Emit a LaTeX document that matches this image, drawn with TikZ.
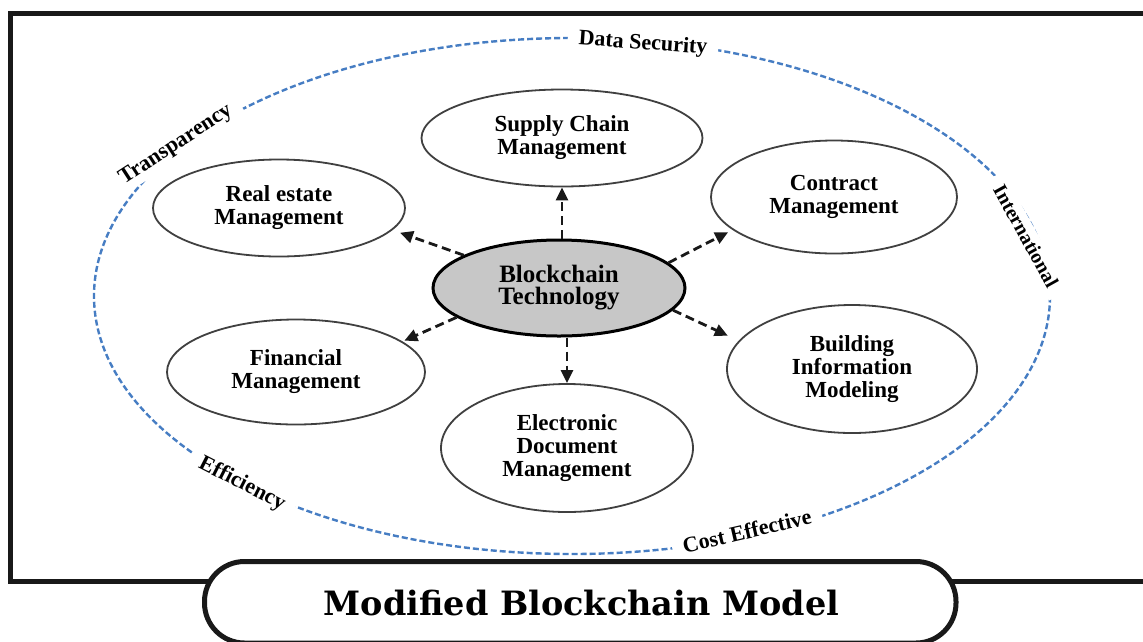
\documentclass[tikz,border=0pt]{standalone}
\usepackage{fontspec}
\setmainfont{Liberation Serif}
\newfontfamily\capfont{DejaVu Serif}
\usetikzlibrary{shapes.geometric,arrows.meta}
\begin{document}
\begin{tikzpicture}[x=1pt,y=1pt,
  mod/.style={ellipse,draw=black!75,line width=1.8pt,inner sep=0pt,align=center,font=\fontsize{23}{23}\selectfont\bfseries},
  core/.style={mod,fill=black!22,draw=black,line width=3pt,font=\fontsize{25}{22}\selectfont\bfseries},
  arr/.style={line width=2.8pt,dash pattern=on 9pt off 5pt,-{Triangle[length=13pt,width=12pt]},black!90},
  ring/.style={draw={rgb,255:red,70;green,125;blue,195},line width=2.4pt,dash pattern=on 6pt off 3pt},
  lab/.style={font=\fontsize{22}{22}\selectfont\bfseries,fill=white,inner xsep=11pt,inner ysep=4pt},
  capbox/.style={line width=5pt,draw=black!90,fill=white,rounded corners=40pt}]
\useasboundingbox (0,0) rectangle (1143,-641);
\clip (0,0) rectangle (1143,-641);
\fill[white] (0,0) rectangle (1143,-641);
\draw[line width=5pt,black!90] (10,-13.5) rectangle (1160,-581.5);
\draw[ring] (572,-296) ellipse [x radius=478,y radius=258];
\node[lab,rotate=-4] (ds) at (643,-44) {Data Security};
\node[lab,rotate=33] (tr) at (176,-145) {Transparency};
\node[lab,rotate=-61,font=\fontsize{20}{20}\selectfont\bfseries] (in) at (1026,-236) {International};
\node[lab,rotate=-27] (ef) at (242,-484) {Efficiency};
\node[lab,rotate=13] (ce) at (747,-531) {Cost Effective};
\node[core,minimum width=252,minimum height=96] (bc) at (559,-288) {Blockchain\\Technology};
\node[mod,minimum width=281,minimum height=97] (sc) at (562,-138) {Supply Chain\\Management};
\node[mod,minimum width=252,minimum height=97] (re) at (279,-208) {Real estate\\Management};
\node[mod,minimum width=246,minimum height=113] (cm) at (834,-197) {Contract\\Management};
\node[mod,minimum width=258,minimum height=105] (fm) at (296,-372) {Financial\\Management};
\node[mod,minimum width=250,minimum height=128] (bim) at (852,-369) {Building\\Information\\Modeling};
\node[mod,minimum width=252,minimum height=128] (edm) at (567,-448) {Electronic\\Document\\Management};
\draw[arr] (bc.north -| sc.south) -- (sc.south);
\draw[arr] (bc.south -| edm.north) -- (edm.north);
\draw[arr,shorten >=8pt] (bc.161) -- (re.-11);
\draw[arr,shorten >=5pt] (bc.13.5) -- (cm.198);
\draw[arr,shorten >=2pt] (bc.196) -- (fm.16);
\draw[arr,shorten >=12pt] (bc.-11) -- (bim.166);
\draw[capbox] (204.5,-561.5) rectangle (956,-643);
\node[font=\capfont\bfseries\fontsize{33.5}{33}\selectfont,anchor=base] (cap) at (581.5,-615) {Modified Blockchain Model};
\end{tikzpicture}
\end{document}
